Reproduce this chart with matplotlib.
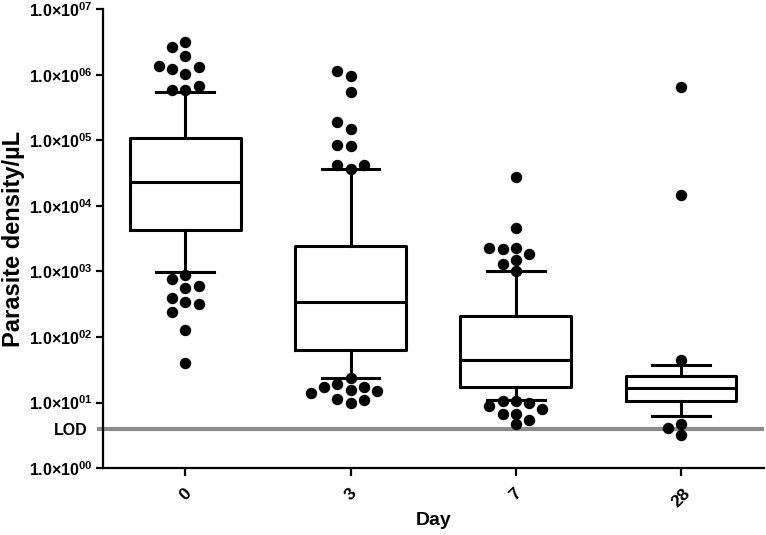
import numpy as np
import matplotlib
matplotlib.use('Agg')
import matplotlib.pyplot as plt

plt.rcParams['font.family'] = ['Liberation Sans', 'DejaVu Sans']
plt.rcParams['font.weight'] = 'bold'
plt.rcParams['mathtext.fontset'] = 'custom'
plt.rcParams['mathtext.rm'] = 'Liberation Sans'
plt.rcParams['mathtext.bf'] = 'Liberation Sans:bold'

# data (parasites/uL)
days = ['0', '3', '7', '28']
whislo = [970, 24, 10.9, 6.3]
q1 = [4300, 63, 17, 10.5]
medians = [23000, 340, 44, 16.8]
q3 = [107000, 2430, 210, 25]
whishi = [550000, 36000, 1000, 37]

out_day0 = [590000, 590000, 680000, 1020000, 1200000, 1320000, 1350000, 1900000, 2600000, 3100000,
            870, 776, 603, 550, 398, 347, 316, 240, 126, 40]
out_day3 = [35900, 41700, 41700, 81000, 85000, 146000, 190000, 550000, 955000, 1150000,
            23.4, 19.5, 17.4, 17, 15.5, 15.1, 13.8, 11.2, 11, 10]
out_day7 = [1000, 1290, 1510, 1860, 2160, 2240, 2240, 4520, 27500,
            10.7, 10.7, 10, 8.9, 8.1, 6.8, 6.6, 5.5, 4.7]
out_day28 = [44, 14600, 650000, 4.7, 4.1, 3.2]
outliers = [out_day0, out_day3, out_day7, out_day28]

LOD = 4


def swarm_x(ax, x0, vals, med, step_px=13.3, min_px=10.5):
    """simple beeswarm: push overlapping dots sideways in pixel space"""
    trans = ax.transData
    order = sorted(range(len(vals)), key=lambda i: abs(np.log10(vals[i]) - np.log10(med)))
    placed = []
    xs = [x0] * len(vals)
    inv = trans.inverted()
    for i in order:
        px, py = trans.transform((x0, vals[i]))
        cx = px
        for k in [0, -1, 1, -2, 2, -3, 3]:
            cx = px + k * step_px
            if all(np.hypot(cx - qx, py - qy) >= min_px for qx, qy in placed):
                break
        placed.append((cx, py))
        xs[i] = inv.transform((cx, py))[0]
    return xs


fig = plt.figure(figsize=(7.66, 5.35), dpi=100)
ax = fig.add_axes([0.134, 0.125, 0.863, 0.858])
ax.set_yscale('log')
ax.set_ylim(1, 1e7)
ax.set_xlim(-0.5, 3.5)

pos = np.arange(len(days))
stats = []
for i in range(len(days)):
    stats.append(dict(med=medians[i], q1=q1[i], q3=q3[i], whislo=whislo[i], whishi=whishi[i], fliers=[]))

lw = 2.2
ax.bxp(stats, positions=pos, widths=0.67, capwidths=0.35, showfliers=False,
       boxprops=dict(color='black', linewidth=lw),
       medianprops=dict(color='black', linewidth=lw),
       whiskerprops=dict(color='black', linewidth=lw),
       capprops=dict(color='black', linewidth=lw),
       zorder=3)

ax.axhline(LOD, color='#8c8c8c', linewidth=3, zorder=1)
# small grey stub left of the axis, like the original
ax.plot([-0.52, -0.5], [LOD, LOD], color='#8c8c8c', linewidth=3, clip_on=False, zorder=1)

fig.canvas.draw()
for i, vals in enumerate(outliers):
    xs = swarm_x(ax, pos[i], vals, medians[i])
    ax.plot(xs, vals, 'o', color='black', markersize=7.2, linestyle='none', zorder=4, clip_on=False)

# axes styling (prism look)
for s in ['top', 'right']:
    ax.spines[s].set_visible(False)
for s in ['left', 'bottom']:
    ax.spines[s].set_linewidth(1.6)

yt = [10.0 ** k for k in range(8)] + [LOD]
ylabels = [r'$\mathbf{1.0×10^{0%d}}$' % k for k in range(8)] + ['LOD']
ax.set_yticks(yt)
ax.set_yticklabels(ylabels)
ax.minorticks_off()
ax.tick_params(axis='y', length=5, width=1.6, labelsize=11.5, pad=2)
ax.yaxis.get_major_ticks()[-1].tick1line.set_visible(False)
ax.yaxis.get_major_ticks()[-1].set_pad(6)

ax.set_xticks(pos)
ax.set_xticklabels(days, rotation=45, ha='center', va='top', fontsize=12.5, fontweight='bold')
ax.tick_params(axis='x', length=6, width=1.6, pad=7)

ax.set_xlabel('Day', fontsize=14, fontweight='bold', labelpad=1)
ax.set_ylabel('Parasite density/µL', fontsize=17, fontweight='bold', labelpad=3)

fig.savefig('out.png', dpi=100)
